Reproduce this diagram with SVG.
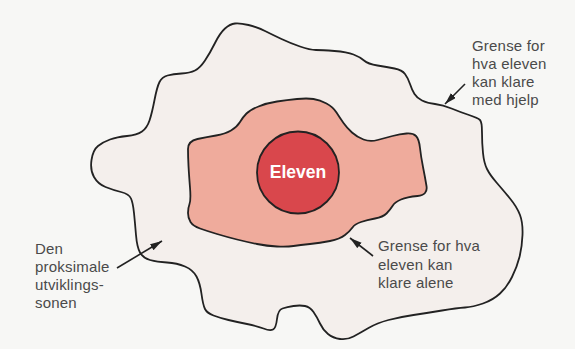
<svg xmlns="http://www.w3.org/2000/svg" width="575" height="349" viewBox="0 0 575 349">
<style>
.zone{stroke:#222;stroke-width:1.8;stroke-linejoin:round}
.lbl{font-family:"Liberation Sans",Arial,sans-serif;font-size:15px;fill:#4a4a4a;letter-spacing:0.2px}
.conn{stroke:#222;stroke-width:1.6;fill:none}
</style>
<defs>
<marker id="ah" markerUnits="userSpaceOnUse" markerWidth="14" markerHeight="9" refX="12" refY="3.5" orient="auto">
<path d="M0,0 L12,3.5 L0,7 Z" fill="#222"/>
</marker>
</defs>
<rect width="575" height="349" fill="#f7f7f5"/>
<g id="outer-zone">
<path class="zone" fill="#f4efec" d="M225,28.5 Q230,24 235,23.5 Q240,23 248.5,25 Q257,27 265,31 Q273,35 281.5,39 Q290,43 300,46.5 Q310,50 316,50 Q322,50 334.5,51 Q347,52 353.5,54.5 Q360,57 364,60.5 Q368,64 377.5,65.5 Q387,67 394.5,68.5 Q402,70 405,74 Q408,78 410,84 Q412,90 414.5,94 Q417,98 422,100.5 Q427,103 435,104 Q443,105 451.5,108.5 Q460,112 469,115 Q478,118 480,120 Q482,122 482,132.5 Q482,143 483,153 Q484,163 487,169 Q490,175 496.5,182.5 Q503,190 510,198.5 Q517,207 520,215 Q523,223 522.5,235 Q522,247 519.5,257 Q517,267 512,277 Q507,287 500,293.5 Q493,300 483,303.5 Q473,307 465,307.5 Q457,308 442,310.5 Q427,313 413.5,315 Q400,317 388.5,320 Q377,323 368.5,328 Q360,333 353.5,336.5 Q347,340 340,339 Q333,338 328,334 Q323,330 320,323.5 Q317,317 313.5,312 Q310,307 305,306 Q300,305 293.5,306 Q287,307 282.5,308.5 Q278,310 277,319 Q276,328 273,329.5 Q270,331 263.5,328.5 Q257,326 247,324 Q237,322 228.5,320 Q220,318 213.5,315.5 Q207,313 205,309 Q203,305 201.5,294 Q200,283 196.5,276.5 Q193,270 185,266.5 Q177,263 167,262.5 Q157,262 150,260 Q143,258 140,252.5 Q137,247 136,235 Q135,223 134,213 Q133,203 131,198.5 Q129,194 121,192 Q113,190 105.5,187 Q98,184 94,177 Q90,170 91.5,160 Q93,150 98,146 Q103,142 110,139.5 Q117,137 127,136 Q137,135 142,131.5 Q147,128 149.5,120.5 Q152,113 154.5,100 Q157,87 159.5,82 Q162,77 167.5,75.5 Q173,74 181.5,73.5 Q190,73 195,70.5 Q200,68 205,60.5 Q210,53 215,43 Q220,33 225,28.5 Z"/>
</g>
<g id="inner-zone">
<path class="zone" fill="#efab9c" d="M188,149 Q188,141 197.5,139 Q207,137 216,135.5 Q225,134 231,130.5 Q237,127 240,122 Q243,117 246.5,113.5 Q250,110 258.5,106.5 Q267,103 277,101.5 Q287,100 297,99 Q307,98 313.5,99 Q320,100 326.5,103.5 Q333,107 336.5,112.5 Q340,118 343.5,123 Q347,128 352,132.5 Q357,137 363.5,139.5 Q370,142 377.5,140 Q385,138 392.5,136 Q400,134 406.5,133.5 Q413,133 416,136 Q419,139 420,148 Q421,157 423,167 Q425,177 426.5,186 Q428,195 417.5,196 Q407,197 401,199.5 Q395,202 392.5,206 Q390,210 386.5,213.5 Q383,217 375,218.5 Q367,220 361,222 Q355,224 352.5,227.5 Q350,231 345,235 Q340,239 330,241 Q320,243 310,244 Q300,245 293.5,246 Q287,247 277,246.5 Q267,246 257,244 Q247,242 237,239.5 Q227,237 217,234 Q207,231 200,228.5 Q193,226 190.5,222 Q188,218 188,213 Q188,208 189.5,204 Q191,200 190,187.5 Q189,175 188.5,166 Q188,157 188,149 Z"/>
</g>
<g id="eleven">
<circle class="zone" cx="298" cy="172.5" r="41" fill="#d9474c"/>
<text x="298" y="178" text-anchor="middle" font-family="'Liberation Sans',Arial,sans-serif" font-weight="bold" font-size="17.5" fill="#ffffff">Eleven</text>
</g>
<g id="label-with-help">
<text class="lbl"><tspan x="472" y="51">Grense for</tspan><tspan x="472" y="69">hva eleven</tspan><tspan x="472" y="87">kan klare</tspan><tspan x="472" y="105">med hjelp</tspan></text>
</g>
<g id="label-alone">
<text class="lbl"><tspan x="378" y="251">Grense for hva</tspan><tspan x="378" y="269.5">eleven kan</tspan><tspan x="378" y="288">klare alene</tspan></text>
</g>
<g id="label-zone">
<text class="lbl"><tspan x="35" y="254">Den</tspan><tspan x="35" y="272">proksimale</tspan><tspan x="35" y="290">utviklings-</tspan><tspan x="35" y="308">sonen</tspan></text>
</g>
<g id="connectors">
<line class="conn" x1="465" y1="84" x2="445" y2="104" marker-end="url(#ah)"/>
<line class="conn" x1="373" y1="256" x2="350" y2="238" marker-end="url(#ah)"/>
<line class="conn" x1="117" y1="268" x2="162" y2="241" marker-end="url(#ah)"/>
</g>
</svg>
